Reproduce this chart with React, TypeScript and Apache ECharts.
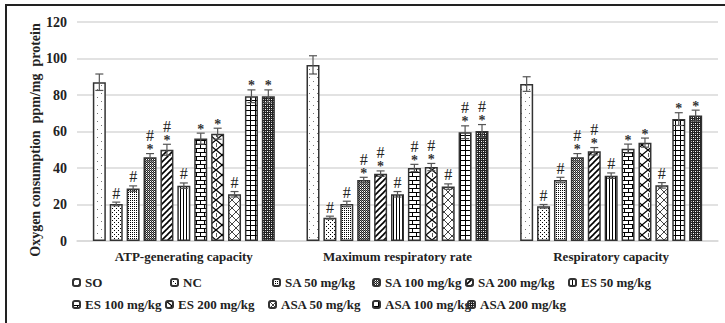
import React, { useEffect, useRef } from "react";
import * as echarts from "echarts";

const categories = ["ATP-generating capacity", "Maximum respiratory rate", "Respiratory capacity"];
const seriesNames = [
  "SO", "NC", "SA 50 mg/kg", "SA 100 mg/kg", "SA 200 mg/kg", "ES 50 mg/kg",
  "ES 100 mg/kg", "ES 200 mg/kg", "ASA 50 mg/kg", "ASA 100 mg/kg", "ASA 200 mg/kg",
];
const yTicks = [0, 20, 40, 60, 80, 100, 120];

const soValues = [87, 96.5, 86];
const ncValues = [20.3, 12.8, 19];
const sa50Values = [28.7, 20.3, 33.4];
const sa100Values = [45.9, 33.4, 45.9];
const sa200Values = [50, 36.9, 49.2];
const es50Values = [30.3, 25.6, 35.8];
const es100Values = [56.1, 40, 50.6];
const es200Values = [58.8, 40.5, 53.9];
const asa50Values = [25.6, 29.8, 30.5];
const asa100Values = [79.3, 59.6, 66.8];
const asa200Values = [79.3, 60.3, 68.7];

const soErr = [4.5, 5, 4];
const ncErr = [1, 0.8, 1];
const sa50Err = [1.5, 1.5, 1.5];
const sa100Err = [2, 1.5, 2];
const sa200Err = [3, 1.5, 2];
const es50Err = [1.5, 1.5, 1.5];
const es100Err = [3, 2, 2.5];
const es200Err = [3, 2, 2.5];
const asa50Err = [1.5, 1.5, 1.5];
const asa100Err = [3.5, 3.5, 3.5];
const asa200Err = [3.5, 3.5, 3];

const soMarks = ["", "", ""];
const ncMarks = ["#", "#", "#"];
const sa50Marks = ["#", "#", "#"];
const sa100Marks = ["#*", "#*", "#*"];
const sa200Marks = ["#*", "#*", "#*"];
const es50Marks = ["#", "#", "#"];
const es100Marks = ["*", "#*", "*"];
const es200Marks = ["*", "#*", "*"];
const asa50Marks = ["#", "#", "#"];
const asa100Marks = ["*", "#*", "*"];
const asa200Marks = ["*", "#*", "*"];

const allValues = [soValues, ncValues, sa50Values, sa100Values, sa200Values, es50Values, es100Values, es200Values, asa50Values, asa100Values, asa200Values];
const allErr = [soErr, ncErr, sa50Err, sa100Err, sa200Err, es50Err, es100Err, es200Err, asa50Err, asa100Err, asa200Err];
const allMarks = [soMarks, ncMarks, sa50Marks, sa100Marks, sa200Marks, es50Marks, es100Marks, es200Marks, asa50Marks, asa100Marks, asa200Marks];

const legendLeft = [72, 170, 272, 372, 465, 568, 72, 165, 268, 372, 467];
const legendTop = [276, 276, 276, 276, 276, 276, 298, 298, 298, 298, 298];

const FONT = '"Liberation Serif", "Times New Roman", serif';
const BAR_W = 13;
const BAR_GAP = 0.3;

function mk(w: number, h: number, draw: (ctx: CanvasRenderingContext2D) => void) {
  const c = document.createElement("canvas");
  c.width = w;
  c.height = h;
  const ctx = c.getContext("2d")!;
  ctx.fillStyle = "#fff";
  ctx.fillRect(0, 0, w, h);
  ctx.fillStyle = "#000";
  ctx.strokeStyle = "#000";
  draw(ctx);
  return { image: c, repeat: "repeat" };
}

function makePatterns() {
  return [
    mk(8, 8, (c) => { c.fillStyle = "#777"; c.fillRect(1, 1, 1, 1); c.fillRect(5, 5, 1, 1); }),
    mk(4, 4, (c) => { c.fillRect(0, 0, 1, 1); c.fillRect(2, 2, 1, 1); }),
    mk(2, 2, (c) => { c.fillRect(0, 0, 1, 1); }),
    mk(2, 2, (c) => { c.fillStyle = "#222"; c.fillRect(0, 0, 1, 1); c.fillRect(1, 1, 1, 1); c.fillStyle = "#888"; c.fillRect(1, 0, 1, 1); }),
    mk(6, 6, (c) => { c.lineWidth = 1.6; for (const o of [-6, 0, 6]) { c.beginPath(); c.moveTo(o - 1, 7); c.lineTo(o + 7, -1); c.stroke(); } }),
    mk(3, 1, (c) => { c.fillRect(0, 0, 1, 1); }),
    mk(8, 8, (c) => { c.fillRect(0, 0, 8, 1); c.fillRect(0, 4, 8, 1); c.fillRect(0, 0, 1, 4); c.fillRect(4, 4, 1, 4); }),
    mk(12, 10, (c) => { c.lineWidth = 1.3; c.beginPath(); c.moveTo(0, 0); c.lineTo(6, 5); c.lineTo(12, 0); c.stroke(); c.beginPath(); c.moveTo(0, 10); c.lineTo(6, 5); c.lineTo(12, 10); c.stroke(); c.beginPath(); c.moveTo(0, 3); c.lineTo(0, 7); c.stroke(); }),
    mk(8, 8, (c) => { c.strokeStyle = "#444"; c.lineWidth = 1; c.beginPath(); c.moveTo(0, 0); c.lineTo(8, 8); c.moveTo(0, 8); c.lineTo(8, 0); c.stroke(); }),
    mk(5, 5, (c) => { c.fillRect(0, 0, 5, 1); c.fillRect(0, 0, 1, 5); }),
    mk(4, 4, (c) => { c.fillStyle = "#222"; c.fillRect(0, 0, 4, 4); c.fillStyle = "#fff"; c.fillRect(1, 1, 1, 1); c.fillRect(3, 3, 1, 1); c.fillStyle = "#aaa"; c.fillRect(1, 3, 1, 1); c.fillRect(3, 1, 1, 1); }),
  ];
}

export default function App() {
  const ref = useRef<HTMLDivElement>(null);
  useEffect(() => {
    document.body.style.margin = "0";
    const chart = echarts.init(ref.current!, null, { renderer: "svg" });
    const patterns = makePatterns();
    const n = seriesNames.length;
    const step = BAR_W * (1 + BAR_GAP);

    const errData: any[] = [];
    allValues.forEach((vals, si) => {
      vals.forEach((v, ci) => {
        errData.push({ value: [ci, v, allErr[si][ci], si], mark: allMarks[si][ci] });
      });
    });

    const barSeries = seriesNames.map((name, si) => ({
      type: "bar",
      name,
      data: allValues[si],
      barWidth: BAR_W,
      barGap: BAR_GAP * 100 + "%",
      itemStyle: { color: patterns[si], borderColor: "#333", borderWidth: 1.5 },
    }));

    const errSeries = {
      type: "custom",
      name: "errors",
      data: errData.map((d) => d.value),
      z: 5,
      clip: false,
      itemStyle: { color: "#222" },
      renderItem: (params: any, api: any) => {
        const ci = api.value(0);
        const v = api.value(1);
        const e = api.value(2);
        const si = api.value(3);
        const off = (si - (n - 1) / 2) * step;
        const top = api.coord([ci, v + e]);
        const bot = api.coord([ci, v - e]);
        const x = top[0] + off;
        const mark = errData[params.dataIndex].mark;
        const children: any[] = [
          { type: "line", shape: { x1: x, y1: top[1], x2: x, y2: bot[1] }, style: { stroke: "#555", lineWidth: 1.2 } },
          { type: "line", shape: { x1: x - 4, y1: top[1], x2: x + 4, y2: top[1] }, style: { stroke: "#555", lineWidth: 1.2 } },
          { type: "line", shape: { x1: x - 4, y1: bot[1], x2: x + 4, y2: bot[1] }, style: { stroke: "#555", lineWidth: 1.2 } },
        ];
        let y = top[1] - 1;
        if (mark.includes("*")) {
          children.push({ type: "text", style: { text: "*", x, y: y + 4, align: "center", verticalAlign: "bottom", font: `bold 14px ${FONT}`, fill: "#333" } });
          y -= 9;
        }
        if (mark.includes("#")) {
          children.push({ type: "text", style: { text: "#", x, y, align: "center", verticalAlign: "bottom", font: `16px ${FONT}`, fill: "#222" } });
        }
        return { type: "group", children };
      },
    };

    const legends = seriesNames.map((name, i) => ({
      data: [name],
      left: legendLeft[i],
      top: legendTop[i],
      padding: 0,
      itemWidth: 7,
      itemHeight: 7,
      selectedMode: false,
      textStyle: { fontFamily: FONT, fontWeight: "bold", fontSize: 13, color: "#222" },
    }));

    chart.setOption({
      animation: false,
      grid: { left: 77, right: 7, top: 22, bottom: 82 },
      legend: legends,
      xAxis: {
        type: "category",
        data: categories,
        axisTick: { show: false },
        axisLine: { lineStyle: { color: "#d9d9d9", width: 1.5 } },
        axisLabel: { fontFamily: FONT, fontWeight: "bold", fontSize: 13, color: "#222", margin: 9 },
      },
      yAxis: {
        type: "value",
        min: yTicks[0],
        max: yTicks[yTicks.length - 1],
        interval: yTicks[1] - yTicks[0],
        axisLine: { show: false },
        axisTick: { show: false },
        splitLine: { lineStyle: { color: "#d9d9d9", width: 1.5 } },
        axisLabel: { fontFamily: FONT, fontWeight: "bold", fontSize: 14, color: "#222", margin: 10 },
      },
      graphic: [
        { type: "rect", shape: { x: 6, y: 5, width: 740, height: 340 }, style: { fill: "none", stroke: "#222", lineWidth: 2 }, silent: true },
        {
          type: "text", x: 35, y: 140, rotation: Math.PI / 2,
          style: { text: "Oxygen consumption  ppm/mg  protein", font: `bold 14px ${FONT}`, align: "center", verticalAlign: "middle", fill: "#222" },
        },
      ],
      series: [...barSeries, errSeries],
    } as any);
    return () => chart.dispose();
  }, []);
  return <div ref={ref} style={{ width: 725, height: 323 }} />;
}
